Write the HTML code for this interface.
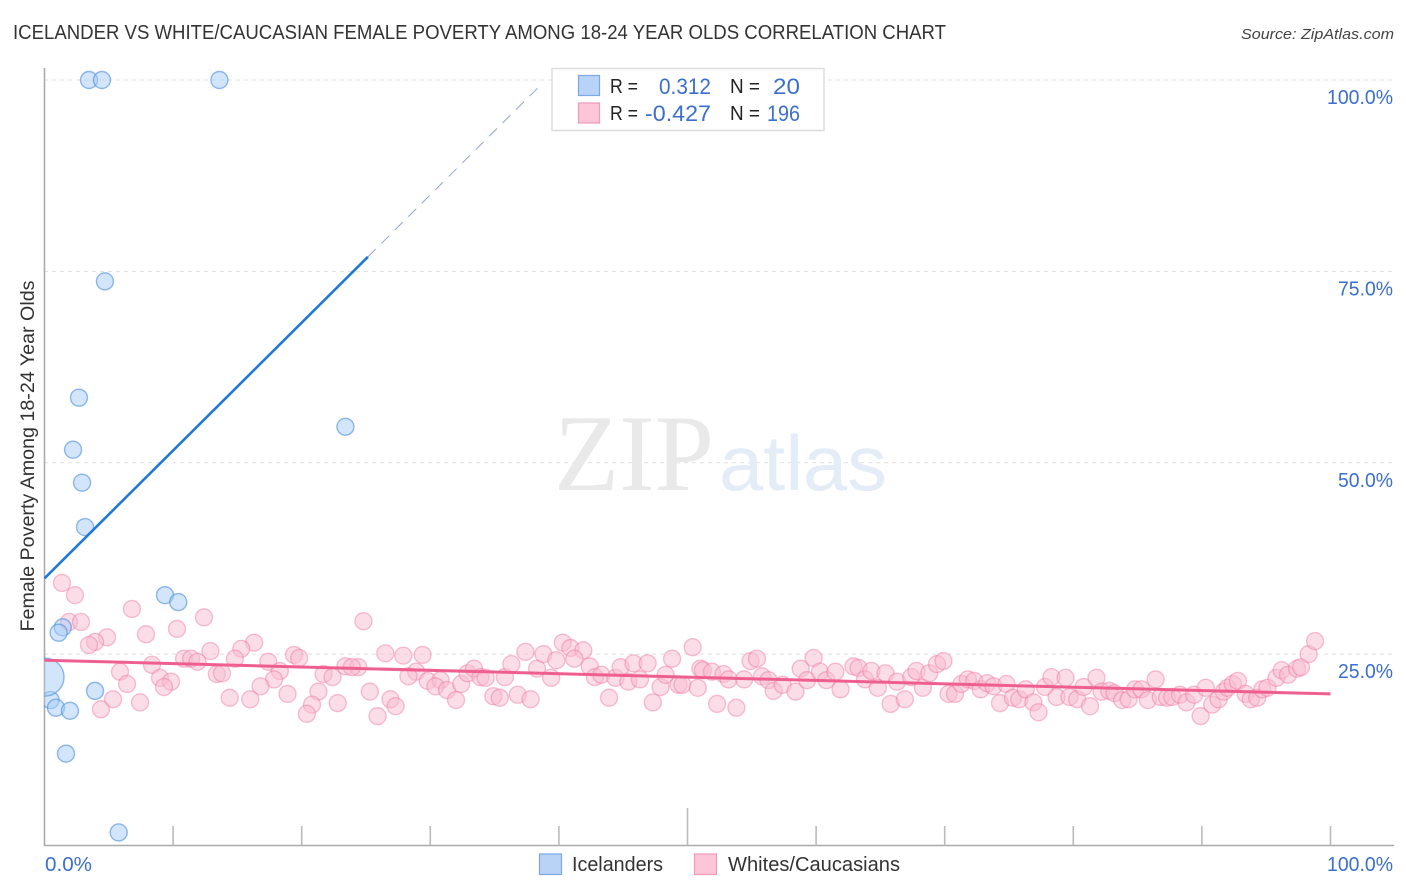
<!DOCTYPE html>
<html lang="en">
<head>
<meta charset="utf-8">
<title>Icelander vs White/Caucasian Female Poverty Correlation Chart</title>
<style>
html,body{margin:0;padding:0;background:#fff;}
svg{display:block;font-family:"Liberation Sans",sans-serif;}
</style>
</head>
<body>
<svg id="chart" width="1406" height="892" viewBox="0 0 1406 892" xmlns="http://www.w3.org/2000/svg">
  <defs><clipPath id="plot-clip"><rect x="44" y="60" width="1350" height="786"/></clipPath></defs>
  <text x="13" y="39" font-size="20" fill="#333" textLength="933" lengthAdjust="spacingAndGlyphs">ICELANDER VS WHITE/CAUCASIAN FEMALE POVERTY AMONG 18-24 YEAR OLDS CORRELATION CHART</text>
  <text x="1394" y="39" font-size="15" font-style="italic" fill="#444" text-anchor="end" textLength="153" lengthAdjust="spacingAndGlyphs">Source: ZipAtlas.com</text>
  <g id="grid"></g>
  <g>
    <text x="554" y="490" font-family="'Liberation Serif',serif" font-size="109" fill="#e9e9e9" textLength="160" lengthAdjust="spacingAndGlyphs">ZIP</text>
    <text x="719" y="490" font-size="78" fill="#e4ecf8" textLength="168" lengthAdjust="spacingAndGlyphs">atlas</text>
  </g>
  <g id="axes"></g>
  <g id="marks" clip-path="url(#plot-clip)"></g>
  <g id="tick-labels"></g>
  <text transform="translate(34,456) rotate(-90)" font-size="19" fill="#333" text-anchor="middle" textLength="351" lengthAdjust="spacingAndGlyphs">Female Poverty Among 18-24 Year Olds</text>

  <g>
    <rect x="552" y="68.5" width="272" height="62" fill="#fff" stroke="#dddddd" stroke-width="1.5"/>
    <rect x="578.5" y="75.5" width="21" height="20" fill="#b9d3f7" stroke="#7aa9e6" stroke-width="1.2"/>
    <rect x="578.5" y="103" width="21" height="20" fill="#fcc5d8" stroke="#f29ab8" stroke-width="1.2"/>
    <text x="610" y="93" font-size="20" fill="#222" textLength="28" lengthAdjust="spacingAndGlyphs">R =</text>
    <text x="610" y="120" font-size="20" fill="#222" textLength="28" lengthAdjust="spacingAndGlyphs">R =</text>
    <text x="659" y="94" font-size="22" fill="#3b6fce" textLength="52" lengthAdjust="spacingAndGlyphs">0.312</text>
    <text x="645" y="121" font-size="22" fill="#3b6fce" textLength="66" lengthAdjust="spacingAndGlyphs">-0.427</text>
    <text x="730" y="93" font-size="20" fill="#222" textLength="30" lengthAdjust="spacingAndGlyphs">N =</text>
    <text x="730" y="120" font-size="20" fill="#222" textLength="30" lengthAdjust="spacingAndGlyphs">N =</text>
    <text x="773" y="94" font-size="22" fill="#3b6fce" textLength="27" lengthAdjust="spacingAndGlyphs">20</text>
    <text x="767" y="121" font-size="22" fill="#3b6fce" textLength="33" lengthAdjust="spacingAndGlyphs">196</text>
  </g>

  <g>
    <rect x="539.5" y="854" width="22" height="20.5" fill="#b9d3f7" stroke="#7aa9e6" stroke-width="1.2"/>
    <text x="572" y="871" font-size="20" fill="#333" textLength="91" lengthAdjust="spacingAndGlyphs">Icelanders</text>
    <rect x="694.5" y="854" width="22" height="20.5" fill="#fcc5d8" stroke="#f29ab8" stroke-width="1.2"/>
    <text x="728" y="871" font-size="20" fill="#333" textLength="172" lengthAdjust="spacingAndGlyphs">Whites/Caucasians</text>
  </g>
</svg>
<script>
// ---- chart data (percent units) ----
const yTickValues = [25, 50, 75, 100];
const yTickLabels = ["25.0%", "50.0%", "75.0%", "100.0%"];
const xTickValues = [0, 10, 20, 30, 40, 50, 60, 70, 80, 90, 100];
const xEndLabels = ["0.0%", "100.0%"];

const icelanderX = [3.46,4.47,13.6,4.7,2.68,2.22,2.92,3.15,23.4,9.37,10.4,1.42,1.1,3.93,0.48,0.89,1.98,1.67,5.77,0.04];
const icelanderY = [100,100,100,73.7,58.5,51.7,47.4,41.6,54.7,32.7,31.8,28.5,27.8,20.2,19.0,18.0,17.6,12.0,1.7,22.0];
const icelanderWeight = [1,1,1,1,1,1,1,1,1,1,1,1,1,1,1,1,1,1,1,5];

const whiteX = [
1.36,2.37,6.8,1.91,2.84,12.4,10.3,7.89,4.86,3.93,
3.46,16.3,12.9,15.3,14.8,10.85,11.4,11.9,17.4,19.4,
19.8,8.36,5.87,18.3,13.4,13.8,8.98,9.84,9.29,6.42,
17.85,16.8,21.7,22.4,23.4,5.33,4.39,7.43,14.4,16.0,
18.9,21.3,20.8,20.4,22.8,
24.8,26.5,27.9,29.4,24.4,23.9,28.9,28.3,25.3,26.9,
27.3,25.9,29.8,30.8,30.4,31.3,32.4,32.0,32.9,33.4,
33.9,34.3,35.8,36.3,34.9,35.4,36.8,37.8,37.4,38.3,
38.8,39.4,39.8,40.3,40.9,41.9,41.2,42.4,42.8,43.3,
44.4,43.9,44.8,45.4,45.8,46.3,46.9,47.3,47.9,48.3,
48.8,49.3,49.6,50.4,50.8,51.0,
51.2,51.9,52.3,52.8,53.2,53.8,54.4,54.9,55.4,55.8,
56.3,56.7,57.4,58.4,58.8,59.3,59.8,60.3,60.8,61.5,
61.9,62.9,63.3,63.8,64.3,64.8,65.4,65.8,66.3,66.9,
67.4,67.8,68.3,68.8,69.4,69.9,70.3,70.8,71.3,71.8,
72.3,72.8,73.3,73.8,74.3,74.8,75.3,75.8,76.3,76.9,
77.3,77.8,
78.3,78.7,79.4,79.7,80.3,80.8,81.3,81.8,82.2,82.8,
83.2,83.8,84.3,84.8,85.3,85.8,86.4,86.8,87.3,87.7,
88.3,88.8,89.4,89.9,90.3,90.8,91.3,91.7,92.0,92.4,
92.8,93.4,93.8,94.3,94.7,95.1,95.8,96.2,96.7,97.4,
97.7,98.3,98.8
];
const whiteY = [
34.3,32.7,30.9,29.2,29.2,29.8,28.3,27.6,27.2,26.6,
26.2,26.5,25.4,25.7,24.4,24.4,24.4,24.0,24.0,24.9,
24.5,23.6,22.7,22.8,22.4,22.5,21.9,21.4,20.7,21.1,
21.7,20.8,22.4,22.0,23.4,19.1,17.8,18.7,19.3,19.1,
19.8,20.1,18.4,17.2,18.6,
29.3,25.1,24.8,24.9,23.3,23.3,22.7,22.1,20.1,19.1,
18.2,16.9,21.5,21.6,20.8,20.3,21.1,19.0,22.5,23.1,
22.0,21.9,22.0,23.7,19.5,19.3,19.7,19.1,25.3,23.1,
25.0,21.9,24.2,26.5,25.8,25.5,24.4,23.4,22.0,22.3,
21.9,19.3,23.3,21.4,23.8,21.7,23.8,18.7,20.7,22.3,
24.4,21.0,21.0,25.9,20.6,23.1,
22.9,22.7,18.5,22.4,21.7,18.0,21.7,24.1,24.4,22.1,
21.6,20.2,21.0,20.1,23.1,21.6,24.5,22.7,21.6,22.7,
20.4,23.4,23.2,21.7,22.8,20.6,22.5,18.5,21.4,19.1,
22.0,22.8,20.6,22.5,23.7,24.1,19.8,19.8,21.1,21.7,
21.5,20.4,21.2,20.8,18.6,21.1,19.3,19.1,20.4,18.7,
17.4,20.7,
22.0,19.4,21.9,19.4,19.1,20.7,18.2,21.9,20.1,20.2,
19.9,19.0,19.1,20.4,20.4,19.0,21.7,19.4,19.3,19.4,
19.7,18.7,19.7,16.9,20.6,18.4,19.1,20.1,20.6,21.1,
21.5,19.8,19.1,19.3,20.4,20.6,21.9,22.9,22.3,23.1,
23.3,25.0,26.7
];

// trend lines: value at x = 0, slope per x-percent, and where each line ends
const icelanderTrendIntercept = 34.9;
const icelanderTrendSlope = 1.67;
const icelanderTrendSolidEnd = 25.15;
const icelanderTrendDashEnd = 38.6;
const whiteTrendStart = 24.2;
const whiteTrendEnd = 19.8;

// ---- axis functions ----
function xScale(v) { return 44.5 + v * 12.86; }
function yScale(v) { return 845.5 - v * 7.655; }
function rScale(w) { return 8.5 * Math.sqrt(w); }

const NS = "http://www.w3.org/2000/svg";
function make(tag, parent, attrs, text) {
  const el = document.createElementNS(NS, tag);
  for (const k in attrs) el.setAttribute(k, attrs[k]);
  if (text !== undefined) el.textContent = text;
  parent.appendChild(el);
  return el;
}

const gridG = document.getElementById("grid");
const axesG = document.getElementById("axes");
const marksG = document.getElementById("marks");
const labelsG = document.getElementById("tick-labels");

// gridlines and y labels
yTickValues.forEach(function (v, i) {
  const gl = make("line", gridG, {x1: 44, x2: 1394, y1: yScale(v), y2: yScale(v), stroke: "#e0e0e0", "stroke-width": 1, "stroke-dasharray": "4 4"});
  
  
  const t = make("text", labelsG, {x: 1393, y: yScale(v) + 24, "font-size": 20, fill: "#3b6fce", "text-anchor": "end", textLength: yTickLabels[i].length * 11, lengthAdjust: "spacingAndGlyphs"}, yTickLabels[i]);
  
  
});

// axes
const yAxis = make("line", axesG, {x1: 44.5, x2: 44.5, y1: 68, y2: 846, stroke: "#aaaaaa", "stroke-width": 1.6});


const xAxis = make("line", axesG, {x1: 44, x2: 1394, y1: 845.5, y2: 845.5, stroke: "#aaaaaa", "stroke-width": 1.6});


xTickValues.forEach(function (v) {
  if (v === 0) return;
  const top = v === 50 ? 808 : 826;
  const tk = make("line", axesG, {x1: xScale(v), x2: xScale(v), y1: top, y2: 845.5, stroke: "#bbbbbb", "stroke-width": 1.6});
  
  
});
const x0Label = make("text", labelsG, {x: 45, y: 871, "font-size": 20, fill: "#3b6fce", textLength: 47, lengthAdjust: "spacingAndGlyphs"}, xEndLabels[0]);


const x100Label = make("text", labelsG, {x: 1393, y: 871, "font-size": 20, fill: "#3b6fce", "text-anchor": "end", textLength: 66, lengthAdjust: "spacingAndGlyphs"}, xEndLabels[1]);



// white/caucasian points
whiteX.forEach(function (x, i) {
  const c = make("circle", marksG, {cx: xScale(x), cy: yScale(whiteY[i]), r: rScale(1), fill: "#f8bbd0", "fill-opacity": 0.5, stroke: "#ee6f9a", "stroke-opacity": 0.42, "stroke-width": 1.4});
  
  
});

// icelander points
icelanderX.forEach(function (x, i) {
  const c = make("circle", marksG, {cx: xScale(x), cy: yScale(icelanderY[i]), r: rScale(icelanderWeight[i]), fill: "#a8ccf5", "fill-opacity": 0.5, stroke: "#4a8ede", "stroke-opacity": 0.6, "stroke-width": 1.4});
  
  
});

// trend lines
const whiteTrend = make("line", marksG, {x1: xScale(0), y1: yScale(whiteTrendStart), x2: xScale(100), y2: yScale(whiteTrendEnd), stroke: "#ee5f90", "stroke-width": 3});


const blueSolid = make("line", marksG, {x1: xScale(0), y1: yScale(icelanderTrendIntercept), x2: xScale(icelanderTrendSolidEnd), y2: yScale(icelanderTrendIntercept + icelanderTrendSlope * icelanderTrendSolidEnd), stroke: "#1f78d6", "stroke-width": 2.6});


const blueDash = make("line", marksG, {x1: xScale(icelanderTrendSolidEnd), y1: yScale(icelanderTrendIntercept + icelanderTrendSlope * icelanderTrendSolidEnd), x2: xScale(icelanderTrendDashEnd), y2: yScale(icelanderTrendIntercept + icelanderTrendSlope * icelanderTrendDashEnd), stroke: "#8fa6d8", "stroke-width": 1, "stroke-dasharray": "11 8"});


</script>
</body>
</html>
